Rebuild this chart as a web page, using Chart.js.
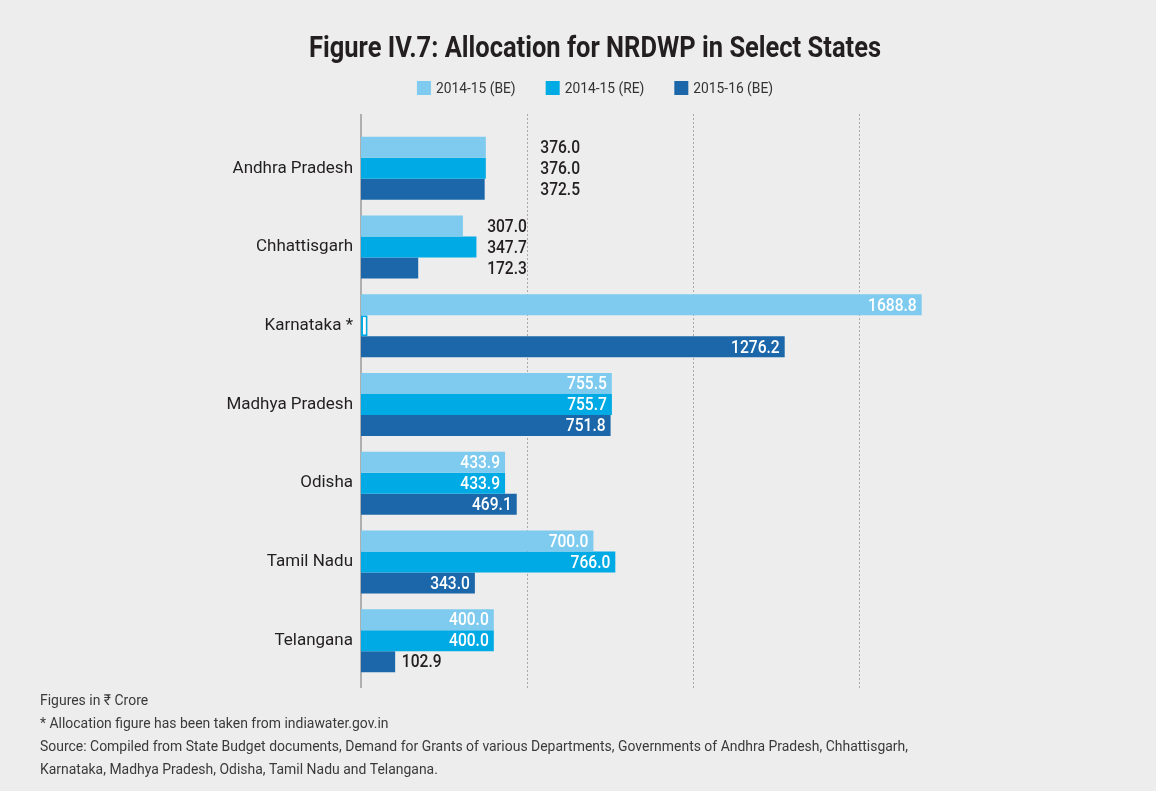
<!DOCTYPE html>
<html>
<head>
<meta charset="utf-8">
<title>Allocation for NRDWP in Select States</title>
<script src="https://cdn.jsdelivr.net/npm/chart.js@4.4.1/dist/chart.umd.min.js"></script>
<style>
    html, body { margin: 0; padding: 0; background: #ecedec; }
    #wrap { width: 1156px; height: 791px; }
</style>
</head>
<body>
<div id="wrap"><canvas id="nrdwpChart" width="1156" height="791"></canvas></div>
<script>
// data (Rs crore)
const states = ['Andhra Pradesh', 'Chhattisgarh', 'Karnataka *', 'Madhya Pradesh', 'Odisha', 'Tamil Nadu', 'Telangana'];
const be201415 = [376.0, 307.0, 1688.8, 755.5, 433.9, 700.0, 400.0];
const re201415 = [376.0, 347.7, 20, 755.7, 433.9, 766.0, 400.0]; // Karnataka RE: empty placeholder bar
const be201516 = [372.5, 172.3, 1276.2, 751.8, 469.1, 343.0, 102.9];
const seriesNames = ['2014-15 (BE)', '2014-15 (RE)', '2015-16 (BE)'];
const gridTicks = [500, 1000, 1500];
const footnotes = [
    'Figures in \u20B9 Crore',
    '* Allocation figure has been taken from indiawater.gov.in',
    'Source: Compiled from State Budget documents, Demand for Grants of various Departments, Governments of Andhra Pradesh, Chhattisgarh,',
    'Karnataka, Madhya Pradesh, Odisha, Tamil Nadu and Telangana.'
];

const FONT = 'Roboto, "Open Sans", sans-serif';
const colors = ['#7ecbef', '#00aae4', '#1b67aa'];
const textDark = '#231f20';

// hollow bar (no figure) -> [dataset, index]
const hollow = { ds: 1, idx: 2 };
// labels written outside the bars: x position in axis units, per dataset
const outsideAt = {
    0: [540, 540, 540],
    1: [380, 380, 380],
    6: [null, null, 123]
};

function squeezeText(ctx, text, x, y, k) {
    const w = ctx.measureText(text).width;
    ctx.fillText(text, x, y, w * k);
}

const bgPlugin = {
    id: 'bg',
    beforeDraw(chart) {
        const ctx = chart.ctx;
        ctx.save();
        ctx.fillStyle = '#ecedec';
        ctx.fillRect(0, 0, chart.width, chart.height);
        ctx.restore();
    }
};

// dashed vertical grid + axis line, a bit longer than the plot area
const gridPlugin = {
    id: 'gridLines',
    beforeDatasetsDraw(chart) {
        const { ctx, chartArea, scales } = chart;
        const top = chartArea.top - 15, bottom = chartArea.bottom + 8;
        ctx.save();
        ctx.strokeStyle = '#a8a8a8';
        ctx.lineWidth = 1;
        ctx.setLineDash([2, 2]);
        gridTicks.forEach(t => {
            const x = Math.round(scales.x.getPixelForValue(t)) + 0.5;
            ctx.beginPath();
            ctx.moveTo(x, top);
            ctx.lineTo(x, bottom);
            ctx.stroke();
        });
        ctx.setLineDash([]);
        ctx.strokeStyle = '#9a9a9a';
        ctx.lineWidth = 1.5;
        const x0 = scales.x.getPixelForValue(0);
        ctx.beginPath();
        ctx.moveTo(x0, top);
        ctx.lineTo(x0, bottom);
        ctx.stroke();
        ctx.restore();
    }
};

const valuePlugin = {
    id: 'values',
    afterDatasetsDraw(chart) {
        const { ctx, scales } = chart;
        ctx.save();
        ctx.font = '500 19px ' + FONT;
        ctx.textBaseline = 'middle';
        chart.data.datasets.forEach((ds, di) => {
            chart.getDatasetMeta(di).data.forEach((bar, i) => {
                if (di === hollow.ds && i === hollow.idx) return;
                const txt = ds.data[i].toFixed(1);
                const out = outsideAt[i] && outsideAt[i][di];
                if (out != null) {
                    ctx.fillStyle = textDark;
                    ctx.textAlign = 'left';
                    squeezeText(ctx, txt, scales.x.getPixelForValue(out), bar.y + 1, 0.82);
                } else {
                    ctx.fillStyle = '#ffffff';
                    ctx.textAlign = 'right';
                    squeezeText(ctx, txt, bar.x - 5, bar.y + 1, 0.82);
                }
            });
        });
        ctx.restore();
    }
};

const textPlugin = {
    id: 'texts',
    afterDraw(chart) {
        const ctx = chart.ctx;
        ctx.save();
        // title
        ctx.fillStyle = textDark;
        ctx.font = 'bold 30px ' + FONT;
        ctx.textAlign = 'center';
        ctx.textBaseline = 'alphabetic';
        ctx.fillText('Figure IV.7: Allocation for NRDWP in Select States', 595, 57, 572);

        // legend
        ctx.font = '15px ' + FONT;
        ctx.textBaseline = 'middle';
        ctx.textAlign = 'left';
        const box = 14, gap = 5, between = 30, k = 0.92;
        const widths = chart.data.datasets.map(d => box + gap + ctx.measureText(d.label).width * k);
        const total = widths.reduce((a, b) => a + b, 0) + between * (widths.length - 1);
        let x = 595 - total / 2;
        chart.data.datasets.forEach((d, i) => {
            ctx.fillStyle = colors[i];
            ctx.fillRect(x, 81, box, box);
            ctx.fillStyle = '#333333';
            squeezeText(ctx, d.label, x + box + gap, 89, k);
            x += widths[i] + between;
        });

        // notes
        ctx.font = '15px ' + FONT;
        ctx.fillStyle = '#3a3a3a';
        ctx.textBaseline = 'alphabetic';
        const ys = [705, 728, 751, 774];
        footnotes.forEach((t, i) => squeezeText(ctx, t, 40, ys[i], 0.93));
        ctx.restore();
    }
};

const ctx = document.getElementById('nrdwpChart').getContext('2d');
const nrdwpChart = new Chart(ctx, {
    type: 'bar',
    data: {
        labels: states,
        datasets: [be201415, re201415, be201516].map((vals, di) => ({
            label: seriesNames[di],
            data: vals,
            backgroundColor: c => (di === hollow.ds && c.dataIndex === hollow.idx) ? '#ffffff' : colors[di],
            borderColor: colors[di],
            borderWidth: c => (di === hollow.ds && c.dataIndex === hollow.idx) ? 2 : 0,
            borderSkipped: false,
            barPercentage: 1.0,
            categoryPercentage: 0.8
        }))
    },
    options: {
        indexAxis: 'y',
        responsive: false,
        animation: false,
        devicePixelRatio: 1,
        layout: { padding: { top: 129, bottom: 111, left: 0, right: 131 } },
        scales: {
            x: { min: 0, max: 2000, display: false },
            y: {
                grid: { display: false, drawTicks: false },
                border: { display: false },
                ticks: {
                    color: textDark,
                    padding: 8,
                    font: { family: FONT, size: 17 }
                },
                afterFit(scale) { scale.width = 361; }
            }
        },
        plugins: {
            legend: { display: false },
            tooltip: { enabled: false }
        }
    },
    plugins: [bgPlugin, gridPlugin, valuePlugin, textPlugin]
});
</script>
</body>
</html>
